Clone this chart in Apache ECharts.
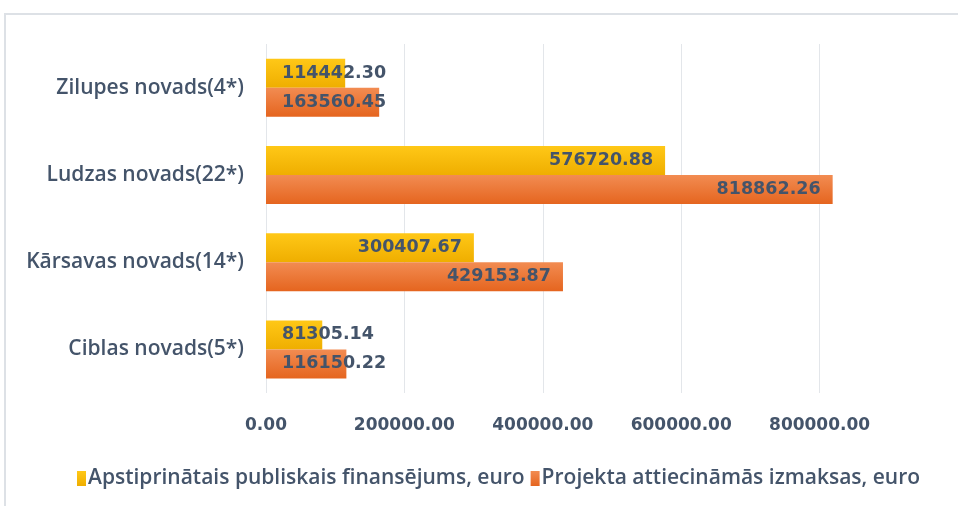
<!DOCTYPE html>
<html>
<head>
<meta charset="utf-8">
<script src="https://cdn.jsdelivr.net/npm/echarts@6/dist/echarts.min.js"></script>
<style>
html, body { margin: 0; padding: 0; background: #fff; }
#main { width: 958px; height: 506px; }
</style>
</head>
<body>
<div id="main"></div>
<script>
// kategorijas (no apakšas uz augšu)
var categories = ['Ciblas novads(5*)', 'Kārsavas novads(14*)', 'Ludzas novads(22*)', 'Zilupes novads(4*)'];
var seriesNames = ['Apstiprinātais publiskais finansējums, euro', 'Projekta attiecināmās izmaksas, euro'];
var financing = [81305.14, 300407.67, 576720.88, 114442.30];
var costs = [116150.22, 429153.87, 818862.26, 163560.45];

var textColor = '#44546A';

function grad(c1, c2) {
    return new echarts.graphic.LinearGradient(0, 0, 0, 1, [
        { offset: 0, color: c1 },
        { offset: 1, color: c2 }
    ]);
}

// mazām vērtībām uzraksts sākas no kreisās puses
function makeData(arr) {
    return arr.map(function (v) {
        var small = v < 200000;
        return {
            value: v,
            label: {
                position: small ? 'insideLeft' : 'insideRight',
                distance: small ? 16 : 12
            }
        };
    });
}

var valueLabel = {
    show: true,
    color: textColor,
    fontSize: 17.5,
    fontWeight: 'bold',
    fontFamily: 'DejaVu Sans',
    formatter: function (p) { return p.value.toFixed(2); }
};

var chart = echarts.init(document.getElementById('main'));
var option = {
    animation: false,
    graphic: [{
        type: 'rect',
        shape: { x: 5, y: 14, width: 1000, height: 600 },
        style: { fill: 'none', stroke: '#DDE1E6', lineWidth: 2 },
        silent: true
    }],
    grid: { left: 266, right: 0, top: 44, bottom: 113, containLabel: false },
    legend: {
        data: seriesNames,
        left: 72,
        top: 463,
        itemWidth: 9,
        itemHeight: 15,
        itemGap: 6,
        icon: 'rect',
        textStyle: { color: textColor, fontSize: 21, fontWeight: 600, fontFamily: 'Open Sans', padding: [0, 0, 0, -3] }
    },
    xAxis: {
        type: 'value',
        min: 0,
        max: 1000000,
        interval: 200000,
        axisLine: { show: false },
        axisTick: { show: false },
        splitLine: { lineStyle: { color: '#E3E6EA', width: 1 } },
        axisLabel: {
            showMaxLabel: false,
            margin: 24,
            color: textColor,
            fontSize: 17,
            fontWeight: 'bold',
            fontFamily: 'DejaVu Sans',
            formatter: function (v) { return v.toFixed(2); }
        }
    },
    yAxis: {
        type: 'category',
        data: categories,
        axisLine: { show: false },
        axisTick: { show: false },
        axisLabel: {
            margin: 22,
            color: textColor,
            fontSize: 21,
            fontWeight: 600,
            fontFamily: 'Open Sans'
        }
    },
    series: [{
        name: seriesNames[0],
        type: 'bar',
        barWidth: 29,
        barGap: '0%',
        data: makeData(financing),
        itemStyle: { color: grad('#FFC817', '#EFAE00') },
        label: valueLabel
    }, {
        name: seriesNames[1],
        type: 'bar',
        barWidth: 29,
        barGap: '0%',
        data: makeData(costs),
        itemStyle: { color: grad('#F28C52', '#E5651F') },
        label: valueLabel
    }]
};
chart.setOption(option);
</script>
</body>
</html>
